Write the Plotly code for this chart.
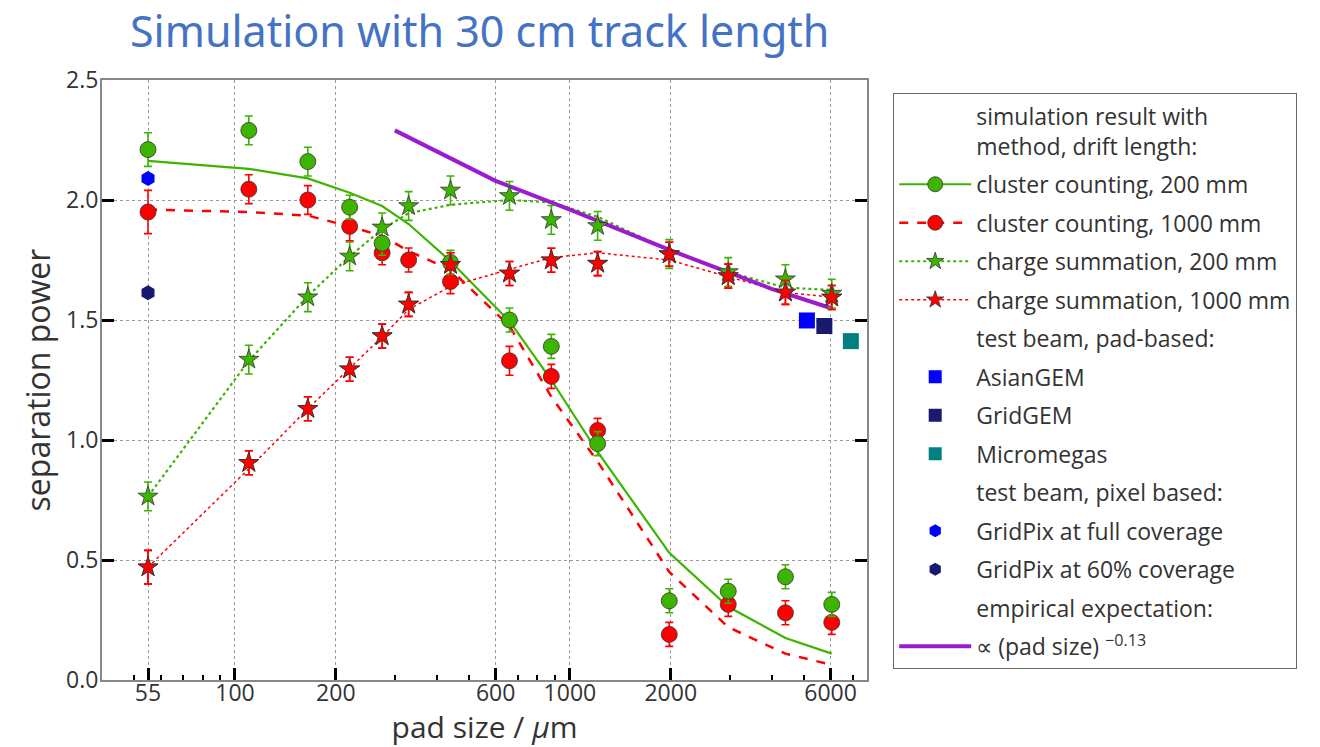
import plotly.graph_objects as go

# ---------------- data ----------------
pad_size = [55, 110, 165, 220, 275, 330, 440, 660, 880, 1210, 1980, 2970, 4400, 6050]

# simulation points (markers)
cc200_pts = [2.21, 2.29, 2.16, 1.97, 1.82, None, 1.74, 1.50, 1.39, 0.985, 0.33, 0.37, 0.43, 0.315]
cc200_err = [0.07, 0.06, 0.06, 0.05, 0.05, 0.05, 0.05, 0.05, 0.05, 0.05, 0.05, 0.05, 0.05, 0.05]
cc1000_pts = [1.95, 2.045, 2.00, 1.89, 1.78, 1.75, 1.66, 1.33, 1.265, 1.04, 0.19, 0.315, 0.28, 0.24]
cc1000_err = [0.09, 0.06, 0.06, 0.06, 0.05, 0.05, 0.05, 0.06, 0.05, 0.05, 0.05, 0.05, 0.05, 0.05]
cs200_pts = [0.765, 1.335, 1.595, 1.765, 1.886, 1.975, 2.04, 2.017, 1.917, 1.892, 1.775, 1.70, 1.67, 1.61]
cs200_err = [0.06, 0.06, 0.06, 0.06, 0.06, 0.06, 0.06, 0.06, 0.06, 0.06, 0.06, 0.06, 0.06, 0.06]
cs1000_pts = [0.47, 0.905, 1.13, 1.295, 1.433, 1.565, 1.73, 1.694, 1.749, 1.735, 1.774, 1.683, 1.615, 1.594]
cs1000_err = [0.07, 0.05, 0.05, 0.05, 0.05, 0.05, 0.05, 0.05, 0.05, 0.05, 0.05, 0.05, 0.05, 0.05]

# simulation curves (lines)
cc200_fit = [2.163, 2.13, 2.09, 2.03, 1.975, 1.90, 1.745, 1.495, 1.25, 0.95, 0.53, 0.305, 0.175, 0.11]
cc1000_fit = [1.96, 1.95, 1.935, 1.89, 1.85, 1.787, 1.71, 1.475, 1.18, 0.91, 0.45, 0.22, 0.11, 0.063]
cs200_fit = [0.765, 1.33, 1.60, 1.765, 1.878, 1.945, 1.98, 2.0, 1.99, 1.93, 1.79, 1.70, 1.635, 1.625]
cs1000_fit = [0.47, 0.88, 1.13, 1.30, 1.43, 1.544, 1.64, 1.711, 1.76, 1.78, 1.75, 1.68, 1.615, 1.595]

# empirical expectation  ∝ (pad size)^-0.13
emp_x = [300, 600, 1000, 2000, 4000, 6000]
emp_y = [2.29, 2.08, 1.96, 1.79, 1.63, 1.55]

# test beam points
asiangem_x, asiangem_y = [5100], [1.498]
gridgem_x, gridgem_y = [5750], [1.475]
micromegas_x, micromegas_y = [6900], [1.412]
gridpix_full_x, gridpix_full_y = [55], [2.09]
gridpix_60_x, gridpix_60_y = [55], [1.614]

x_tickvals = [55, 100, 200, 600, 1000, 2000, 6000]
x_ticktext = ["55", "100", "200", "600", "1000", "2000", "6000"]
x_minor = [50, 60, 70, 80, 90, 300, 400, 500, 700, 800, 900, 3000, 4000, 5000, 7000]
y_tickvals = [0.0, 0.5, 1.0, 1.5, 2.0, 2.5]
y_ticktext = ["0.0", "0.5", "1.0", "1.5", "2.0", "2.5"]

# ---------------- style ----------------
GREEN = "#3cb400"
RED = "#ff0000"
PURPLE = "#9a1ccc"
BLUE = "#0000ff"
NAVY = "#191970"
TEAL = "#008080"
FONT = "Open Sans"
TXT = "#333333"

fig = go.Figure()

# fit curves
fig.add_trace(go.Scatter(x=pad_size, y=cc200_fit, mode="lines",
                         line=dict(color=GREEN, width=2.2), showlegend=False))
fig.add_trace(go.Scatter(x=pad_size, y=cc1000_fit, mode="lines",
                         line=dict(color=RED, width=2.5, dash="dash"), showlegend=False))
fig.add_trace(go.Scatter(x=pad_size, y=cs200_fit, mode="lines",
                         line=dict(color=GREEN, width=2.2, dash="dot"), showlegend=False))
fig.add_trace(go.Scatter(x=pad_size, y=cs1000_fit, mode="lines",
                         line=dict(color=RED, width=1.5, dash="dot"), showlegend=False))

# empirical line
fig.add_trace(go.Scatter(x=emp_x, y=emp_y, mode="lines",
                         line=dict(color=PURPLE, width=4), showlegend=False))

def pts(y, err, color, symbol, size):
    return go.Scatter(x=pad_size, y=y, mode="markers",
                      marker=dict(color=color, symbol=symbol, size=size,
                                  line=dict(color="#333333", width=0.8)),
                      error_y=dict(type="data", array=err, color=color,
                                   thickness=1.6, width=4),
                      showlegend=False)

fig.add_trace(pts(cs1000_pts, cs1000_err, RED, "star", 15))
fig.add_trace(pts(cs200_pts, cs200_err, GREEN, "star", 15))
fig.add_trace(pts(cc1000_pts, cc1000_err, RED, "circle", 16))
fig.add_trace(pts(cc200_pts, cc200_err, GREEN, "circle", 16))
fig.add_trace(pts(cs1000_pts, cs1000_err, RED, "star", 15))

# test beam markers
def tb(x, y, color, symbol, size):
    return go.Scatter(x=x, y=y, mode="markers",
                      marker=dict(color=color, symbol=symbol, size=size,
                                  line=dict(color=color, width=0)),
                      showlegend=False)

fig.add_trace(tb(asiangem_x, asiangem_y, BLUE, "square", 16))
fig.add_trace(tb(gridgem_x, gridgem_y, NAVY, "square", 16))
fig.add_trace(tb(micromegas_x, micromegas_y, TEAL, "square", 16))
fig.add_trace(tb(gridpix_full_x, gridpix_full_y, BLUE, "hexagon", 15))
fig.add_trace(tb(gridpix_60_x, gridpix_60_y, NAVY, "hexagon", 15))

# ---------------- legend entries ----------------
def header(name, g):
    return go.Scatter(x=[None], y=[None], mode="markers", name=name,
                      marker=dict(color="rgba(0,0,0,0)", size=1),
                      legendgroup=g, showlegend=True)

def entry(name, g, mode, color, symbol=None, dash="solid", width=2, size=14):
    m = dict(color=color, size=size, line=dict(color="#333333", width=0.8))
    if symbol:
        m["symbol"] = symbol
    return go.Scatter(x=[None], y=[None], mode=mode, name=name,
                      line=dict(color=color, dash=dash, width=width),
                      marker=m, legendgroup=g, showlegend=True)

fig.add_trace(header("simulation result with<br>method, drift length:", "g01"))
fig.add_trace(entry("cluster counting, 200 mm", "g02", "lines+markers", GREEN, "circle", "solid", 2.2, 15))
fig.add_trace(entry("cluster counting, 1000 mm", "g03", "lines+markers", RED, "circle", "dash", 2.5, 15))
fig.add_trace(entry("charge summation, 200 mm", "g04", "lines+markers", GREEN, "star", "dot", 2, 13))
fig.add_trace(entry("charge summation, 1000 mm", "g05", "lines+markers", RED, "star", "dot", 1.5, 13))
fig.add_trace(header("test beam, pad-based:", "g06"))
fig.add_trace(go.Scatter(x=[None], y=[None], mode="markers", name="AsianGEM", legendgroup="g07",
                         marker=dict(color=BLUE, symbol="square", size=13)))
fig.add_trace(go.Scatter(x=[None], y=[None], mode="markers", name="GridGEM", legendgroup="g08",
                         marker=dict(color=NAVY, symbol="square", size=13)))
fig.add_trace(go.Scatter(x=[None], y=[None], mode="markers", name="Micromegas", legendgroup="g09",
                         marker=dict(color=TEAL, symbol="square", size=13)))
fig.add_trace(header("test beam, pixel based:", "g10"))
fig.add_trace(go.Scatter(x=[None], y=[None], mode="markers", name="GridPix at full coverage", legendgroup="g11",
                         marker=dict(color=BLUE, symbol="hexagon", size=13)))
fig.add_trace(go.Scatter(x=[None], y=[None], mode="markers", name="GridPix at 60% coverage", legendgroup="g12",
                         marker=dict(color=NAVY, symbol="hexagon", size=13)))
fig.add_trace(header("empirical expectation:", "g13"))
fig.add_trace(go.Scatter(x=[None], y=[None], mode="lines", name="∝ (pad size) <sup>−0.13</sup>", legendgroup="g14",
                         line=dict(color=PURPLE, width=4)))

# ---------------- layout ----------------
# page body has an 8px margin: figure is 1312x739 so it fills the 1320x747 window
fig.update_layout(
    width=1312, height=739,
    margin=dict(l=94, r=453, t=72, b=67, autoexpand=False),
    paper_bgcolor="white", plot_bgcolor="white",
    font=dict(family=FONT, size=20, color=TXT),
    showlegend=True,
    legend=dict(x=1.034, y=0.978, xanchor="left", yanchor="top",
                bordercolor="#666666", borderwidth=1.2, bgcolor="white",
                font=dict(family=FONT, size=23, color=TXT),
                traceorder="grouped", tracegroupgap=5.6, itemwidth=72),
    xaxis=dict(type="log", range=[1.603, 3.887], automargin=False,
               tickmode="array", tickvals=x_tickvals, ticktext=x_ticktext,
               ticks="inside", ticklen=12, tickwidth=3, tickcolor="black",
               ticklabelstandoff=-9,
               tickfont=dict(family=FONT, size=23, color=TXT),
               showline=True, linecolor="#888888", linewidth=2, mirror=True,
               showgrid=True, gridcolor="#999999", griddash="dot", gridwidth=1,
               zeroline=False,
               minor=dict(tickmode="array", tickvals=x_minor, ticks="inside",
                          ticklen=5, tickwidth=1.5, tickcolor="black", showgrid=False),
               title=dict(text="pad size / <i>μ</i>m", font=dict(family=FONT, size=30, color=TXT),
                          standoff=4)),
    yaxis=dict(range=[0, 2.5], tickmode="array", tickvals=y_tickvals, ticktext=y_ticktext,
               automargin=False,
               ticks="inside", ticklen=12, tickwidth=3, tickcolor="black",
               ticklabelstandoff=-3,
               tickfont=dict(family=FONT, size=23, color=TXT),
               showline=True, linecolor="#888888", linewidth=2, mirror="allticks",
               showgrid=True, gridcolor="#999999", griddash="dot", gridwidth=1,
               zeroline=False,
               title=dict(text="separation power", font=dict(family=FONT, size=32, color=TXT),
                          standoff=6)),
    annotations=[dict(text="Simulation with 30 cm track length", xref="paper", yref="paper",
                      x=(120 - 94) / 765, y=(672 - 22) / 600, xanchor="left", yanchor="middle",
                      showarrow=False, font=dict(family="Noto Sans", size=43, color="#4472c4"))],
)

fig.write_html("out.html")
